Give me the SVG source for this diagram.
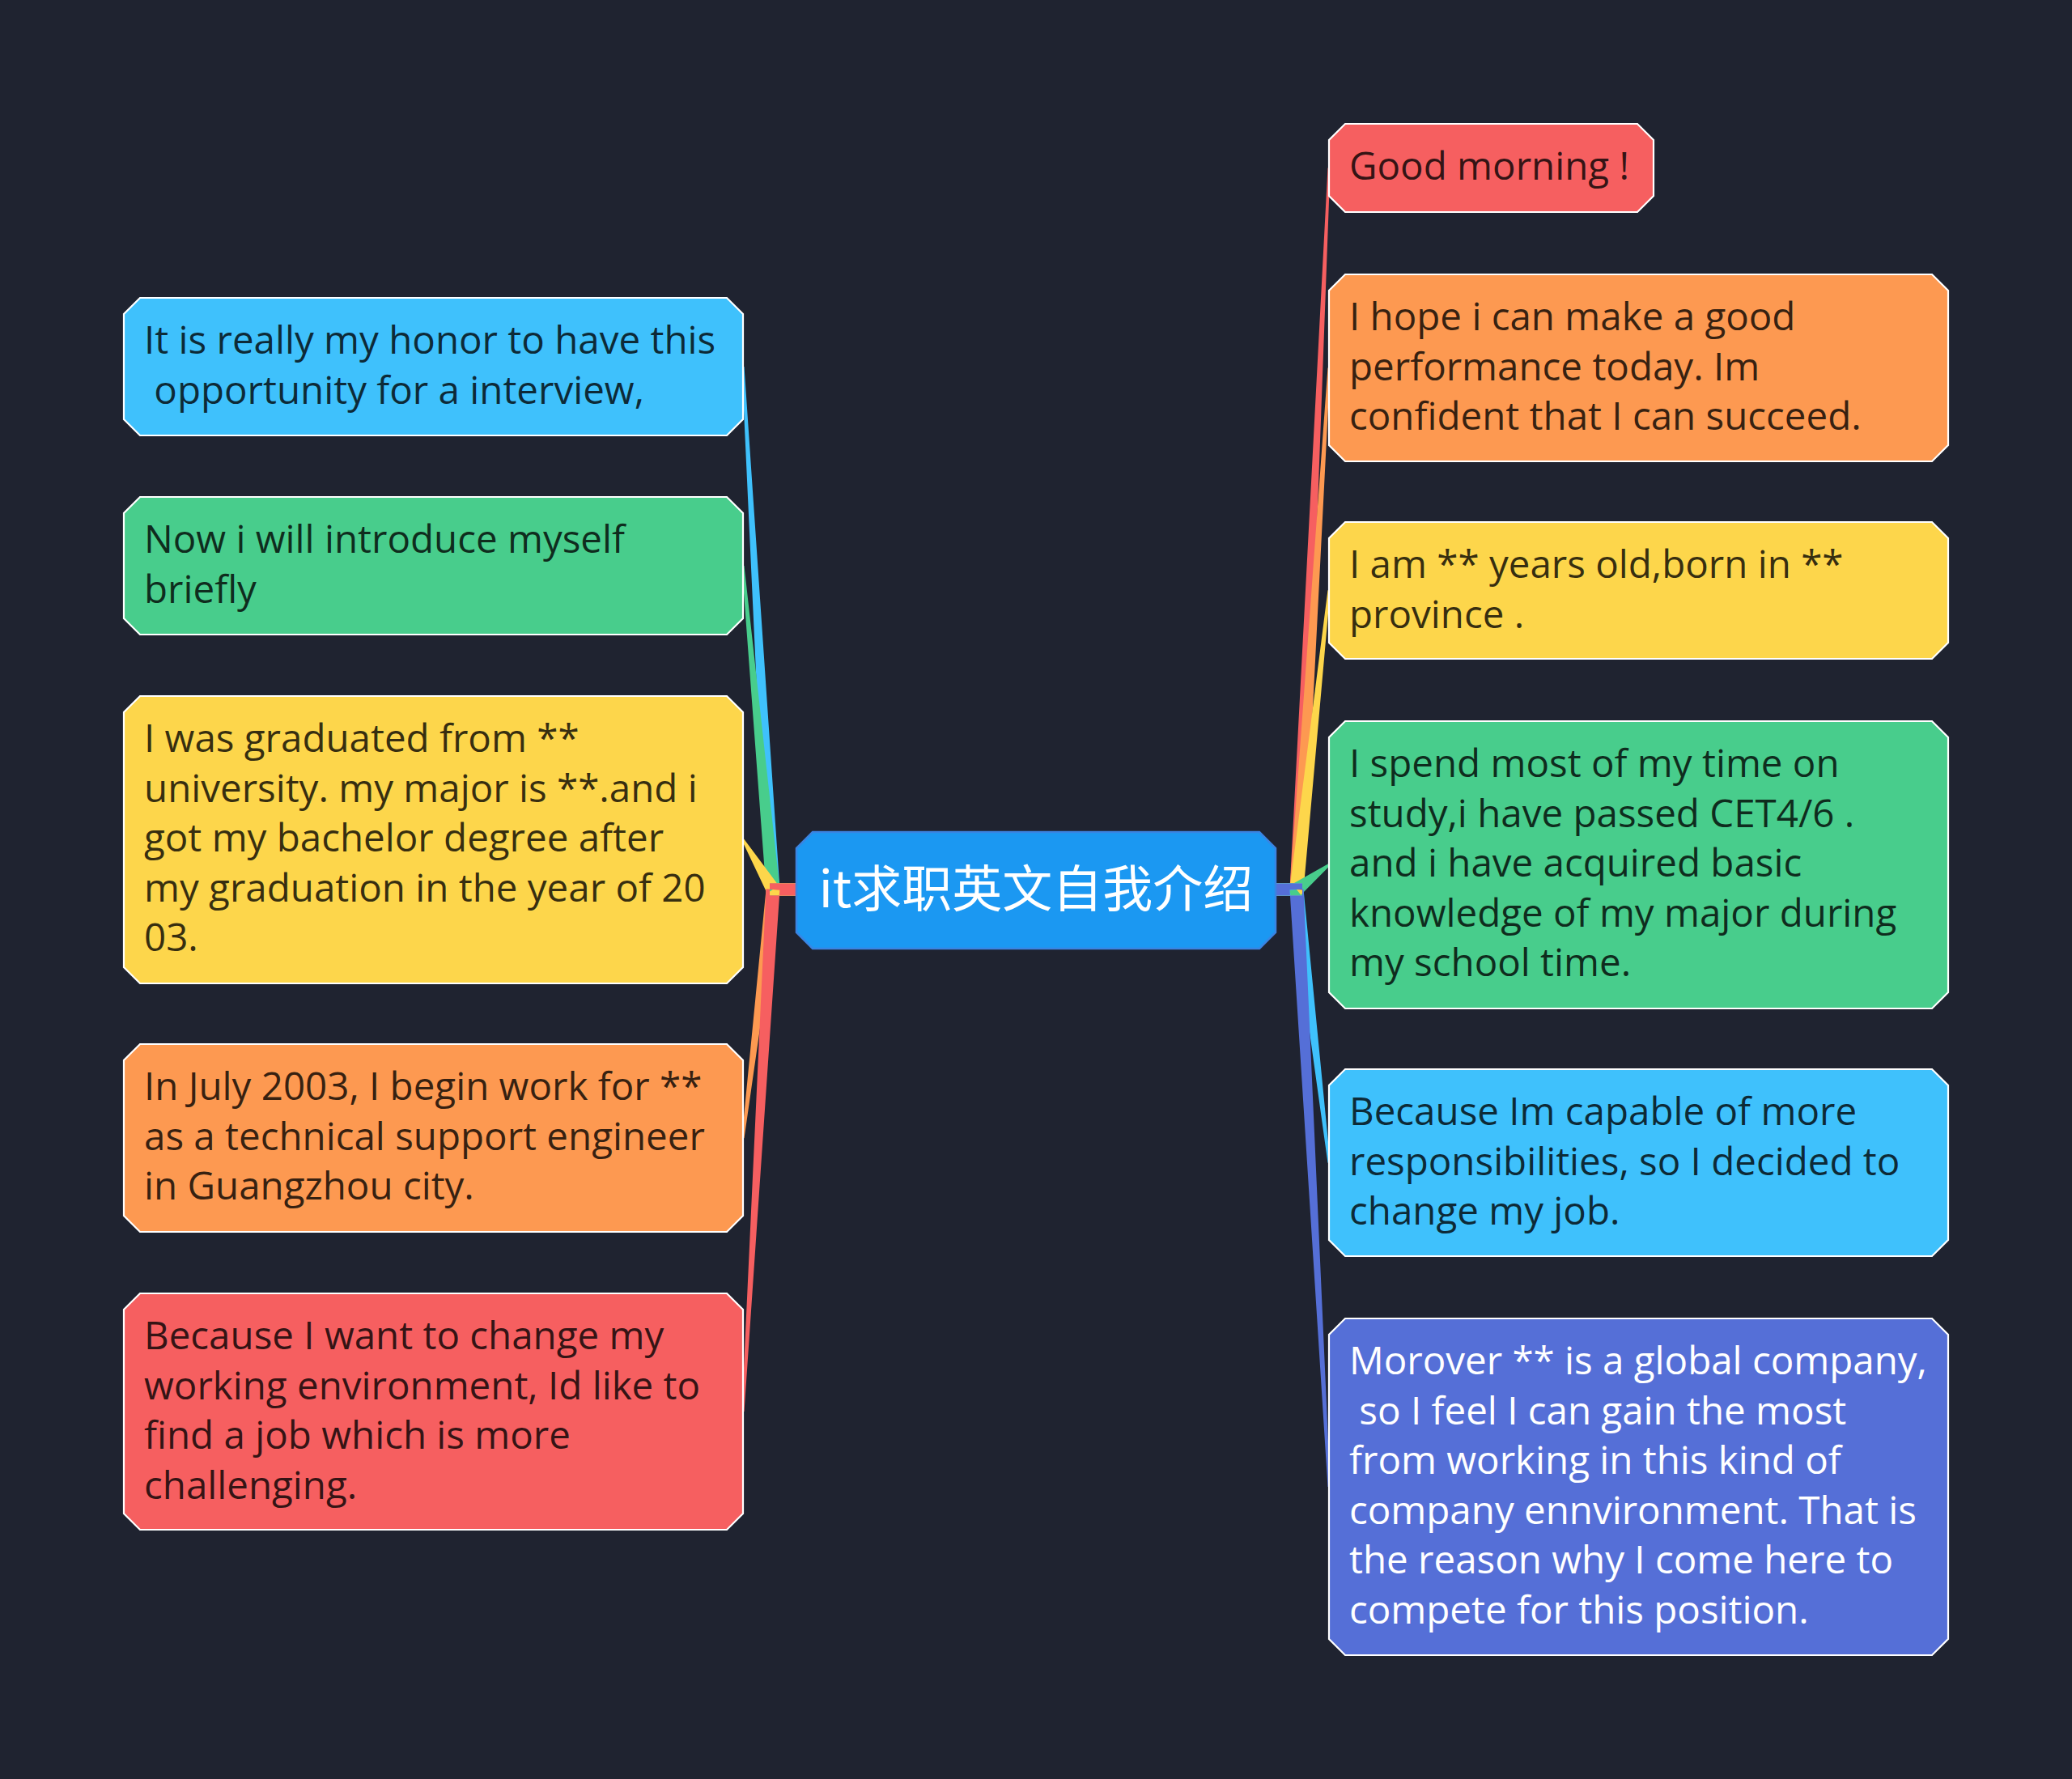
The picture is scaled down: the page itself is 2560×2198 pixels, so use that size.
<svg xmlns="http://www.w3.org/2000/svg" width="2560" height="2198" viewBox="0 0 2560 2198">
<style>
.bg{fill:#1f2330}
.node{stroke:#ffffff;stroke-width:2.2;stroke-linejoin:miter}
.t{font-family:"Open Sans","Noto Sans","Liberation Sans",sans-serif;font-size:47.5px;fill:#000;fill-opacity:.8}
.tw{font-family:"Open Sans","Noto Sans","Liberation Sans",sans-serif;font-size:47.5px;fill:#ffffff}
.ct{font-family:"Noto Sans CJK SC","Open Sans",sans-serif;font-size:62px;fill:#ffffff;text-anchor:middle}
.blue{fill:#3fc1fc}.green{fill:#48cd8c}.yellow{fill:#fdd64b}.orange{fill:#fd9951}.red{fill:#f65f60}.purple{fill:#556fd7}
</style>
<rect class="bg" x="0" y="0" width="2560" height="2198"/>
<g id="connectors">
<path class="blue" d="M951,1091.5H984V1106.5H951Z M963.5,1098.5L919.5,452.9L916.5,453.1L946.5,1099.5Z"/>
<path class="green" d="M951,1091.5H984V1106.5H951Z M963.5,1098.2L919.5,698.9L916.5,699.1L946.5,1099.8Z"/>
<path class="yellow" d="M951,1091.5H984V1106.5H951Z M962.3,1094.6L919.3,1036.7L916.7,1038.3L947.7,1103.4Z"/>
<path class="orange" d="M951,1091.5H984V1106.5H951Z M946.6,1098L916.5,1405.8L919.5,1406.2L963.4,1100Z"/>
<path class="red" d="M951,1091.5H984V1106.5H951Z M946.5,1098.5L916.5,1743.9L919.5,1744.1L963.5,1099.5Z"/>
<path class="red" d="M1576,1091.5H1609V1106.5H1576Z M1610.5,1099.4L1643.5,207.6L1640.5,207.4L1593.5,1098.6Z"/>
<path class="orange" d="M1576,1091.5H1609V1106.5H1576Z M1610.5,1099.5L1643.5,454.6L1640.5,454.4L1593.5,1098.5Z"/>
<path class="yellow" d="M1576,1091.5H1609V1106.5H1576Z M1610.5,1099.9L1643.5,729.7L1640.5,729.3L1593.5,1098.1Z"/>
<path class="green" d="M1576,1091.5H1609V1106.5H1576Z M1607.2,1105.8L1642.9,1069.7L1641.1,1067.3L1596.8,1092.2Z"/>
<path class="blue" d="M1576,1091.5H1609V1106.5H1576Z M1593.6,1100L1640.5,1436.7L1643.5,1436.3L1610.4,1098Z"/>
<path class="purple" d="M1576,1091.5H1609V1106.5H1576Z M1593.5,1099.5L1640.5,1837.1L1643.5,1836.9L1610.5,1098.5Z"/>
</g>
<g id="center">
<polygon points="1004,1028 1556,1028 1576,1048 1576,1152 1556,1172 1004,1172 984,1152 984,1048" fill="#1b98f2" stroke="#3a84e2" stroke-width="2.5"/>
<text class="ct" x="1280" y="1121">it求职英文自我介绍</text>
</g>
<g id="L1">
<polygon class="node blue" points="173,368 898,368 918,388 918,518 898,538 173,538 153,518 153,388"/>
<text class="t" x="178" y="437" xml:space="preserve">It is really my honor to have this</text>
<text class="t" x="178" y="498.5" xml:space="preserve"> opportunity for a interview,</text>
</g>
<g id="L2">
<polygon class="node green" points="173,614 898,614 918,634 918,764 898,784 173,784 153,764 153,634"/>
<text class="t" x="178" y="683">Now i will introduce myself</text>
<text class="t" x="178" y="744.5">briefly</text>
</g>
<g id="L3">
<polygon class="node yellow" points="173,860 898,860 918,880 918,1195 898,1215 173,1215 153,1195 153,880"/>
<text class="t" x="178" y="929">I was graduated from **</text>
<text class="t" x="178" y="990.5">university. my major is **.and i</text>
<text class="t" x="178" y="1052">got my bachelor degree after</text>
<text class="t" x="178" y="1113.5">my graduation in the year of 20</text>
<text class="t" x="178" y="1175">03.</text>
</g>
<g id="L4">
<polygon class="node orange" points="173,1290 898,1290 918,1310 918,1502 898,1522 173,1522 153,1502 153,1310"/>
<text class="t" x="178" y="1359">In July 2003, I begin work for **</text>
<text class="t" x="178" y="1420.5">as a technical support engineer</text>
<text class="t" x="178" y="1482">in Guangzhou city.</text>
</g>
<g id="L5">
<polygon class="node red" points="173,1598 898,1598 918,1618 918,1870 898,1890 173,1890 153,1870 153,1618"/>
<text class="t" x="178" y="1667">Because I want to change my</text>
<text class="t" x="178" y="1728.5">working environment, Id like to</text>
<text class="t" x="178" y="1790">find a job which is more</text>
<text class="t" x="178" y="1851.5">challenging.</text>
</g>
<g id="R1">
<polygon class="node red" points="1662,153 2023,153 2043,173 2043,242 2023,262 1662,262 1642,242 1642,173"/>
<text class="t" x="1667" y="222">Good morning !</text>
</g>
<g id="R2">
<polygon class="node orange" points="1662,339 2387,339 2407,359 2407,550 2387,570 1662,570 1642,550 1642,359"/>
<text class="t" x="1667" y="408">I hope i can make a good</text>
<text class="t" x="1667" y="469.5">performance today. Im</text>
<text class="t" x="1667" y="531">confident that I can succeed.</text>
</g>
<g id="R3">
<polygon class="node yellow" points="1662,645 2387,645 2407,665 2407,794 2387,814 1662,814 1642,794 1642,665"/>
<text class="t" x="1667" y="714">I am ** years old,born in **</text>
<text class="t" x="1667" y="775.5">province .</text>
</g>
<g id="R4">
<polygon class="node green" points="1662,891 2387,891 2407,911 2407,1226 2387,1246 1662,1246 1642,1226 1642,911"/>
<text class="t" x="1667" y="960">I spend most of my time on</text>
<text class="t" x="1667" y="1021.5">study,i have passed CET4/6 .</text>
<text class="t" x="1667" y="1083">and i have acquired basic</text>
<text class="t" x="1667" y="1144.5">knowledge of my major during</text>
<text class="t" x="1667" y="1206">my school time.</text>
</g>
<g id="R5">
<polygon class="node blue" points="1662,1321 2387,1321 2407,1341 2407,1532 2387,1552 1662,1552 1642,1532 1642,1341"/>
<text class="t" x="1667" y="1390">Because Im capable of more</text>
<text class="t" x="1667" y="1451.5">responsibilities, so I decided to</text>
<text class="t" x="1667" y="1513">change my job.</text>
</g>
<g id="R6">
<polygon class="node purple" points="1662,1629 2387,1629 2407,1649 2407,2025 2387,2045 1662,2045 1642,2025 1642,1649"/>
<text class="tw" x="1667" y="1698">Morover ** is a global company,</text>
<text class="tw" x="1667" y="1759.5" xml:space="preserve"> so I feel I can gain the most</text>
<text class="tw" x="1667" y="1821">from working in this kind of</text>
<text class="tw" x="1667" y="1882.5">company ennvironment. That is</text>
<text class="tw" x="1667" y="1944">the reason why I come here to</text>
<text class="tw" x="1667" y="2005.5">compete for this position.</text>
</g>
</svg>
